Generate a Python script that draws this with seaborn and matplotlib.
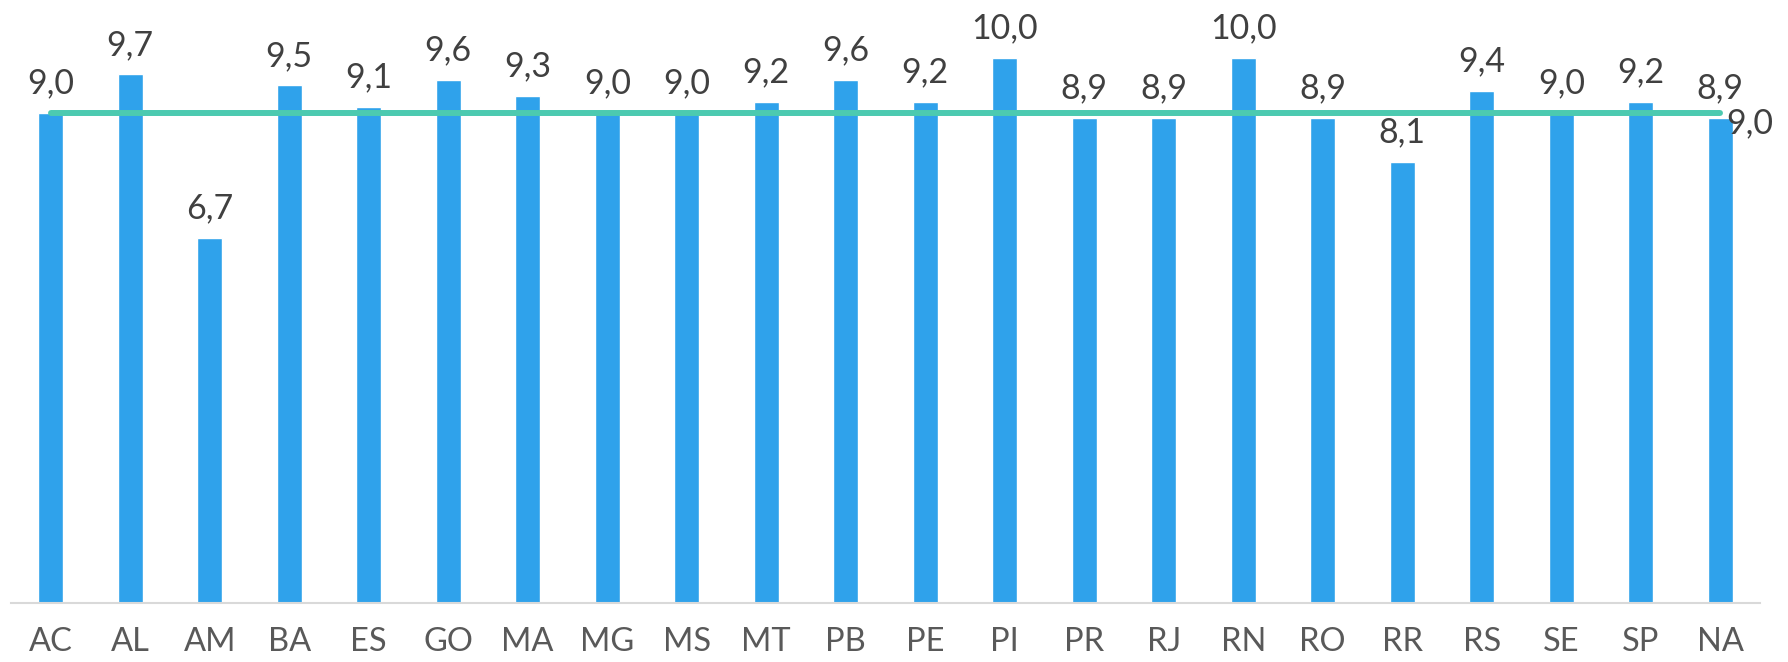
import matplotlib
matplotlib.use("Agg")
import matplotlib.pyplot as plt
import seaborn as sns
import pandas as pd

# Notas por UF
ufs = ["AC", "AL", "AM", "BA", "ES", "GO", "MA", "MG", "MS", "MT", "PB",
       "PE", "PI", "PR", "RJ", "RN", "RO", "RR", "RS", "SE", "SP", "NA"]
notas = [9.0, 9.7, 6.7, 9.5, 9.1, 9.6, 9.3, 9.0, 9.0, 9.2, 9.6,
         9.2, 10.0, 8.9, 8.9, 10.0, 8.9, 8.1, 9.4, 9.0, 9.2, 8.9]
media = 9.0

BAR = "#2fa2eb"
LINE = "#4ccab0"
TXT = "#404040"
TICK = "#595959"

sns.set_theme(style="white")
plt.rcParams["font.family"] = ["Lato", "DejaVu Sans"]

df = pd.DataFrame({"uf": ufs, "nota": notas})

fig = plt.figure(figsize=(17.88, 6.62), dpi=100)
ax = fig.add_axes([11 / 1788, 59 / 662, 1749 / 1788, 599.5 / 662])

sns.barplot(data=df, x="uf", y="nota", color=BAR, width=0.31,
            saturation=1, ax=ax)

# Linha da média
ax.plot([0, len(ufs) - 1], [media, media], color=LINE, lw=4.3,
        solid_capstyle="round", zorder=3)
ax.annotate(f"{media:.1f}".replace(".", ","), xy=(len(ufs) - 1, media),
            xytext=(4, -8), textcoords="offset points", ha="left",
            va="center", fontsize=24.5, color=TXT)

# Rótulos de valor
for i, v in enumerate(notas):
    ax.annotate(f"{v:.1f}".replace(".", ","), xy=(i, v), xytext=(0, 14),
                textcoords="offset points", ha="center", va="baseline",
                fontsize=24.5, color=TXT)

ax.set_xlim(-0.5, len(ufs) - 0.5)
ax.set_ylim(0, 11)
ax.set_xlabel("")
ax.set_ylabel("")
ax.set_yticks([])
ax.tick_params(axis="x", length=0, pad=17, labelsize=23.5, labelcolor=TICK)
for s in ["top", "right", "left"]:
    ax.spines[s].set_visible(False)
ax.spines["bottom"].set_color("#d9d9d9")
ax.spines["bottom"].set_linewidth(1.5)

fig.savefig("out.png", dpi=100)
